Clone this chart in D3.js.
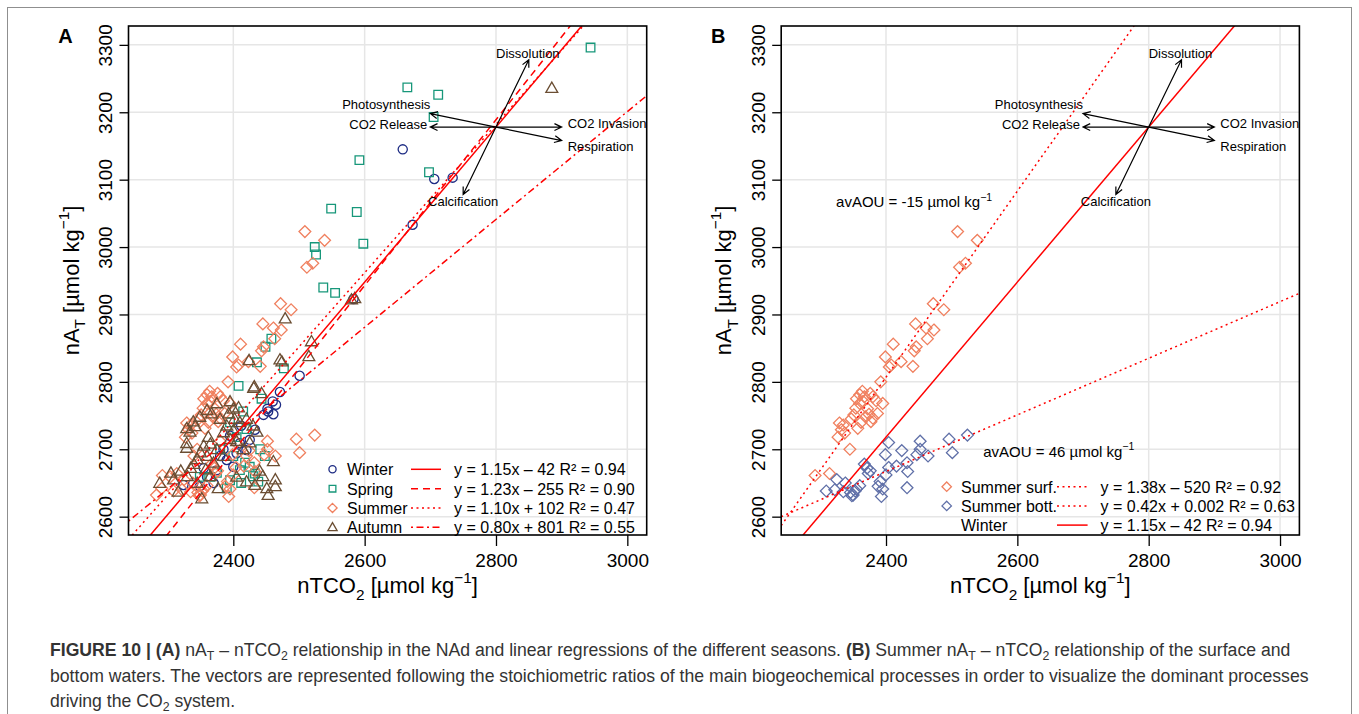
<!DOCTYPE html>
<html>
<head>
<meta charset="utf-8">
<script src="https://cdnjs.cloudflare.com/ajax/libs/d3/7.8.5/d3.min.js"></script>
<style>
  body { margin: 0; background: #fff; }
  svg { display: block; font-family: "Liberation Sans", Arial, sans-serif; }
</style>
</head>
<body>
<script>
// ---- data, [nTCO2, nAT] in umol/kg ----
var winter = [[2658,3145],[2706,3101],[2734,3103],[2673,3033],[2583,2923],[2501,2809],[2471,2785],[2460,2771],[2465,2766],
    [2453,2756],[2461,2752],[2446,2751],[2452,2760],[2433,2729],[2425,2714],[2410,2709],[2420,2699],[2405,2694],[2390,2684],
    [2400,2674],[2375,2669],[2360,2659],[2370,2650],[2349,2645],[2339,2650],[2324,2647],[2385,2700],[2395,2720],[2412,2735],
    [2380,2690],[2355,2672]];
var spring = [[2944,3296],[2665,3237],[2712,3226],[2705,3193],[2592,3129],[2698,3111],[2549,3057],[2588,3052],[2598,3005],
    [2524,3000],[2526,2989],[2537,2940],[2555,2932],[2458,2864],[2449,2852],[2436,2829],[2477,2820],[2408,2794],[2443,2775],
    [2415,2756],[2395,2740],[2420,2730],[2405,2718],[2441,2700],[2448,2690],[2425,2674],[2433,2664],[2410,2669],[2395,2654],
    [2365,2659],[2349,2659],[2390,2642],[2438,2652],[2418,2680],[2380,2700],[2400,2690],[2430,2660],[2412,2650],[2375,2665]];
var autumn = [[2885,3236],[2580,2922],[2585,2924],[2479,2894],[2519,2860],[2515,2838],[2471,2833],[2474,2830],[2424,2832],
    [2431,2791],[2432,2793],[2443,2783],[2395,2771],[2375,2768],[2360,2758],[2367,2753],[2349,2748],[2339,2741],[2329,2731],
    [2334,2726],[2342,2734],[2329,2709],[2329,2702],[2393,2753],[2380,2745],[2390,2735],[2400,2728],[2385,2725],[2395,2715],
    [2405,2712],[2400,2760],[2408,2762],[2402,2745],[2410,2740],[2436,2726],[2430,2735],[2362,2718],[2355,2705],[2365,2708],
    [2350,2695],[2345,2685],[2340,2678],[2335,2672],[2320,2668],[2288,2650],[2309,2655],[2316,2637],[2352,2627],[2377,2642],
    [2405,2659],[2420,2652],[2433,2647],[2451,2642],[2453,2632],[2464,2655],[2464,2645],[2461,2682],[2440,2668],[2445,2660],
    [2375,2700],[2385,2690],[2360,2690],[2370,2680],[2358,2670],[2415,2700],[2425,2710],[2420,2745],[2305,2665],[2330,2660],
    [2345,2650],[2365,2660]];
var summerSurf = [[2509,3023],[2539,3010],[2512,2970],[2521,2976],[2472,2916],[2488,2907],[2473,2877],[2445,2886],[2461,2880],
    [2463,2864],[2446,2852],[2443,2846],[2411,2856],[2399,2837],[2408,2825],[2405,2822],[2423,2830],[2441,2823],[2392,2800],
    [2364,2786],[2360,2781],[2367,2778],[2395,2768],[2376,2783],[2387,2753],[2377,2741],[2351,2751],[2357,2731],[2329,2739],
    [2332,2729],[2337,2724],[2327,2718],[2335,2736],[2345,2700],[2292,2661],[2314,2664],[2354,2761],[2360,2768],[2365,2771],
    [2372,2760],[2380,2746],[2369,2748],[2385,2772],[2347,2745],[2362,2740],[2374,2752],[2355,2775],[2380,2778]];
var summerBott = [[2524,2721],[2496,2715],[2501,2695],[2464,2690],[2452,2712],[2452,2700],[2424,2698],[2447,2692],[2404,2710],
    [2399,2692],[2432,2680],[2416,2675],[2404,2673],[2400,2662],[2433,2667],[2432,2643],[2391,2652],[2388,2645],[2395,2641],
    [2393,2630],[2371,2672],[2373,2664],[2367,2678],[2376,2668],[2360,2646],[2350,2632],[2346,2636],[2353,2638],[2348,2631],
    [2355,2641],[2335,2637],[2325,2655],[2309,2638],[2322,2640],[2338,2650]];
// summer stations that only show in panel A
var summerOther = [[2283,2632],[2291,2642],[2304,2659],[2340,2690],[2380,2712],[2420,2690]];
var summer = summerSurf.concat(summerBott, summerOther);

// regressions
var seasonsA = ["Winter", "Spring", "Summer", "Autumn"];
var slopesA = [1.15, 1.23, 1.10, 0.80];
var interceptsA = [-42, -255, 102, 801];
var equationsA = ["y = 1.15x \u2013 42 R\u00b2 = 0.94", "y = 1.23x \u2013 255 R\u00b2 = 0.90",
    "y = 1.10x + 102 R\u00b2 = 0.47", "y = 0.80x + 801 R\u00b2 = 0.55"];

var groupsB = ["Summer surf.", "Summer bott.", "Winter"];
var slopesB = [1.38, 0.42, 1.15];
var interceptsB = [-505, 1659, -42];
var equationsB = ["y = 1.38x \u2013 520 R\u00b2 = 0.92", "y = 0.42x + 0.002 R\u00b2 = 0.63", "y = 1.15x \u2013 42 R\u00b2 = 0.94"];

// process vectors from a common origin
var vecOrigin = [2800, 3178];
var vecNames = ["Dissolution", "Calcification", "Photosynthesis", "Respiration", "CO2 Release", "CO2 Invasion"];
var vecDx = [50, -50, -100, 100, -100, 100];
var vecDy = [100, -100, 20, -20, 0, 0];

var aouLabels = ["avAOU = -15 \u00b5mol kg", "avAOU = 46 \u00b5mol kg"];
var aouAt = [[2324, 3059], [2548, 2689]];

var xTicks = [2400, 2600, 2800, 3000];
var yTicks = [2600, 2700, 2800, 2900, 3000, 3100, 3200, 3300];
var xDomain = [2240.4, 3029.5],
    yDomain = [2572.8, 3328];

// ---- layout ----
var width = 1359,
    height = 714,
    boxTop = 26,
    boxW = 518.2,
    boxH = 509
;
var red = "#ff0000";
var colWinter = "#1e2c84",
    colSpring = "#17977a",
    colSummer = "#f0805f",
    colAutumn = "#6b4e33",
    colBott = "#6070a8";

var svg = d3.select("body").append("svg")
    .attr("width", width)
    .attr("height", height)
;

svg.append("rect")
    .attr("x", 7.5).attr("y", 7.5)
    .attr("width", 1344).attr("height", 800)
    .attr("fill", "none").attr("stroke", "#8f8f8f")
;

function shape(type, s) {
    if (type == "circle") return d3.symbol(d3.symbolCircle, Math.PI * s * s)();
    if (type == "square") return `M${-s},${-s}H${s}V${s}H${-s}Z`;
    if (type == "diamond") return `M0,${-s}L${s},0L0,${s}L${-s},0Z`;
    // triangle, point up
    return `M0,${-s * 1.1}L${s * 1.1},${s * 0.8}L${-s * 1.1},${s * 0.8}Z`;
}
var sizes = {circle: 4.6, square: 4.3, diamond: 5.9, triangle: 5.4};

// text with sub / superscripts and bold pieces
function rich(text, parts, size) {
    var shift = 0;
    parts.forEach(function(p) {
        var t = text.append("tspan").text(p[0]);
        var target = 0;
        if (p[1] == "sub") { target = size * 0.3; t.attr("font-size", size * 0.7); }
        if (p[1] == "sup") { target = -size * 0.45; t.attr("font-size", size * 0.7); }
        if (p[1] == "b") t.attr("font-weight", "bold");
        if (target != shift) t.attr("dy", target - shift);
        shift = target;
    });
}

function panel(left, letter, id) {
    var g = svg.append("g").attr("transform", `translate(${left},${boxTop})`);
    var x = d3.scaleLinear().domain(xDomain).range([0, boxW]);
    var y = d3.scaleLinear().domain(yDomain).range([boxH, 0]);

    g.append("clipPath").attr("id", id).append("rect").attr("width", boxW).attr("height", boxH);

    // grid
    g.selectAll(".gx").data(xTicks).enter().append("line")
        .attr("x1", d => x(d)).attr("x2", d => x(d))
        .attr("y1", 0).attr("y2", boxH)
        .attr("stroke", "#e6e6e6").attr("stroke-width", 1.5);
    g.selectAll(".gy").data(yTicks).enter().append("line")
        .attr("x1", 0).attr("x2", boxW)
        .attr("y1", d => y(d)).attr("y2", d => y(d))
        .attr("stroke", "#e6e6e6").attr("stroke-width", 1.5);

    // axes
    var ax = g.append("g")
        .attr("transform", `translate(0,${boxH})`)
        .call(d3.axisBottom(x).tickValues(xTicks).tickSize(11).tickSizeOuter(0).tickFormat(d3.format("d")));
    ax.selectAll("text").attr("y", 32).attr("dy", 0);
    var ay = g.append("g")
        .call(d3.axisLeft(y).tickValues(yTicks).tickSize(9).tickSizeOuter(0).tickFormat(d3.format("d")));
    ay.selectAll("text")
        .attr("transform", "rotate(-90)")
        .attr("x", 0).attr("y", -16.5).attr("dy", 0)
        .attr("text-anchor", "middle");
    [ax, ay].forEach(function(a) {
        a.select(".domain").remove();
        a.selectAll("line").attr("stroke", "#000").attr("stroke-width", 1.3);
        a.selectAll("text").attr("font-size", 19).attr("fill", "#000")
            .attr("font-family", "Liberation Sans, Arial, sans-serif");
    });

    // axis titles
    var tx = g.append("text")
        .attr("x", boxW / 2).attr("y", boxH + 58)
        .attr("text-anchor", "middle").attr("font-size", 22);
    rich(tx, [["nTCO", ""], ["2", "sub"], [" [\u00b5mol kg", ""], ["\u22121", "sup"], ["]", ""]], 22);
    var ty = g.append("text")
        .attr("transform", `translate(-50,${boxH / 2}) rotate(-90)`)
        .attr("text-anchor", "middle").attr("font-size", 22);
    rich(ty, [["nA", ""], ["T", "sub"], [" [\u00b5mol kg", ""], ["\u22121", "sup"], ["]", ""]], 22);

    g.append("text")
        .attr("x", -63).attr("y", 17)
        .attr("text-anchor", "middle")
        .attr("font-size", 20).attr("font-weight", "bold")
        .text(letter);

    var plot = g.append("g").attr("clip-path", `url(#${id})`);
    return {g: g, plot: plot, x: x, y: y};
}

function points(p, data, type, color) {
    p.plot.selectAll(null).data(data).enter().append("path")
        .attr("transform", d => `translate(${p.x(d[0])},${p.y(d[1])})`)
        .attr("d", shape(type, sizes[type]))
        .attr("fill", "none").attr("stroke", color).attr("stroke-width", 1.3);
}

function regLine(p, slope, icpt, dash) {
    p.plot.append("line")
        .attr("x1", p.x(xDomain[0])).attr("y1", p.y(slope * xDomain[0] + icpt))
        .attr("x2", p.x(xDomain[1])).attr("y2", p.y(slope * xDomain[1] + icpt))
        .attr("stroke", red).attr("stroke-width", 1.5)
        .attr("stroke-dasharray", dash);
}

function vectors(p) {
    var ox = p.x(vecOrigin[0]), oy = p.y(vecOrigin[1]);
    var place = [[-1, -2, "middle"], [0, 12, "middle"], [0, -5, "end"], [6, 10, "start"], [-3, 1.5, "end"], [6, 1, "start"]];
    vecNames.forEach(function(name, i) {
        var ex = p.x(vecOrigin[0] + vecDx[i]), ey = p.y(vecOrigin[1] + vecDy[i]);
        var a = Math.atan2(ey - oy, ex - ox), h = 8;
        var a1 = a + Math.PI - 0.45, a2 = a + Math.PI + 0.45;
        p.g.append("path")
            .attr("d", `M${ox},${oy}L${ex},${ey}M${ex + h * Math.cos(a1)},${ey + h * Math.sin(a1)}L${ex},${ey}L${ex + h * Math.cos(a2)},${ey + h * Math.sin(a2)}`)
            .attr("fill", "none").attr("stroke", "#000").attr("stroke-width", 1.2);
        p.g.append("text")
            .attr("x", ex + place[i][0]).attr("y", ey + place[i][1])
            .attr("text-anchor", place[i][2])
            .attr("font-size", 13)
            .text(name);
    });
}

function box(p) {
    p.g.append("rect")
        .attr("width", boxW).attr("height", boxH)
        .attr("fill", "none").attr("stroke", "#000").attr("stroke-width", 1.6);
}

// Panel A
var pa = panel(128.5, "A", "clipA");
points(pa, winter, "circle", colWinter);
points(pa, spring, "square", colSpring);
points(pa, summer, "diamond", colSummer);
points(pa, autumn, "triangle", colAutumn);
var dashA = ["none", "7,5", "2,3.5", "2,3.5,7,3.5"];
slopesA.forEach(function(s, i) { regLine(pa, s, interceptsA[i], dashA[i]); });
vectors(pa);
box(pa);

// legend A
var typesA = ["circle", "square", "diamond", "triangle"];
var colsA = [colWinter, colSpring, colSummer, colAutumn];
seasonsA.forEach(function(name, i) {
    var ry = 443.3 + i * 19.33;
    pa.g.append("path")
        .attr("transform", `translate(204,${ry})`)
        .attr("d", shape(typesA[i], sizes[typesA[i]] * 0.78))
        .attr("fill", "none").attr("stroke", colsA[i]).attr("stroke-width", 1.3);
    pa.g.append("text").attr("x", 218.5).attr("y", ry + 6).attr("font-size", 16).text(name);
    pa.g.append("line")
        .attr("x1", 282.5).attr("x2", 312.5).attr("y1", ry).attr("y2", ry)
        .attr("stroke", red).attr("stroke-width", 1.5).attr("stroke-dasharray", dashA[i]);
    pa.g.append("text").attr("x", 325.5).attr("y", ry + 6).attr("font-size", 16).text(equationsA[i]);
});

// Panel B
var pb = panel(781.2, "B", "clipB");
points(pb, summerSurf, "diamond", colSummer);
points(pb, summerBott, "diamond", colBott);
var dashB = ["2,3.5", "2,3.5", "none"];
slopesB.forEach(function(s, i) { regLine(pb, s, interceptsB[i], dashB[i]); });
vectors(pb);
box(pb);

aouLabels.forEach(function(t, i) {
    var tt = pb.g.append("text")
        .attr("x", pb.x(aouAt[i][0])).attr("y", pb.y(aouAt[i][1]))
        .attr("font-size", 15);
    rich(tt, [[t, ""], ["\u22121", "sup"]], 15);
});

// legend B
var colsB = [colSummer, colBott, null];
groupsB.forEach(function(name, i) {
    var ry = 460.7 + i * 19.2;
    if (colsB[i]) {
        pb.g.append("path")
            .attr("transform", `translate(165.5,${ry})`)
            .attr("d", shape("diamond", sizes.diamond * 0.8))
            .attr("fill", "none").attr("stroke", colsB[i]).attr("stroke-width", 1.3);
    }
    pb.g.append("text").attr("x", 179.8).attr("y", ry + 6).attr("font-size", 16).text(name);
    pb.g.append("line")
        .attr("x1", 275.8).attr("x2", 306.4).attr("y1", ry).attr("y2", ry)
        .attr("stroke", red).attr("stroke-width", 1.5).attr("stroke-dasharray", dashB[i]);
    pb.g.append("text").attr("x", 319.4).attr("y", ry + 6).attr("font-size", 16).text(equationsB[i]);
});

// caption
var captionLines = [
    [["FIGURE 10 | (A)", "b"], [" nA", ""], ["T", "sub"], [" \u2013 nTCO", ""], ["2", "sub"],
     [" relationship in the NAd and linear regressions of the different seasons. ", ""], ["(B)", "b"],
     [" Summer nA", ""], ["T", "sub"], [" \u2013 nTCO", ""], ["2", "sub"], [" relationship of the surface and", ""]],
    [["bottom waters. The vectors are represented following the stoichiometric ratios of the main biogeochemical processes in order to visualize the dominant processes", ""]],
    [["driving the CO", ""], ["2", "sub"], [" system.", ""]]
];
var capNodes = captionLines.map(function(parts, i) {
    var t = svg.append("text")
        .attr("x", 50).attr("y", 656 + i * 25.5)
        .attr("font-size", 16).attr("fill", "#333");
    rich(t, parts, 16);
    return t;
});
// fit the first line to the width it has in the figure
var fs = 16 * 1241 / capNodes[0].node().getComputedTextLength();
capNodes.forEach(function(t) {
    t.attr("font-size", fs);
    t.selectAll("tspan").each(function() {
        var s = d3.select(this);
        if (s.attr("font-size")) s.attr("font-size", fs * 0.7);
        if (s.attr("dy")) s.attr("dy", +s.attr("dy") * fs / 16 * 0.75);
    });
});
</script>
</body>
</html>
